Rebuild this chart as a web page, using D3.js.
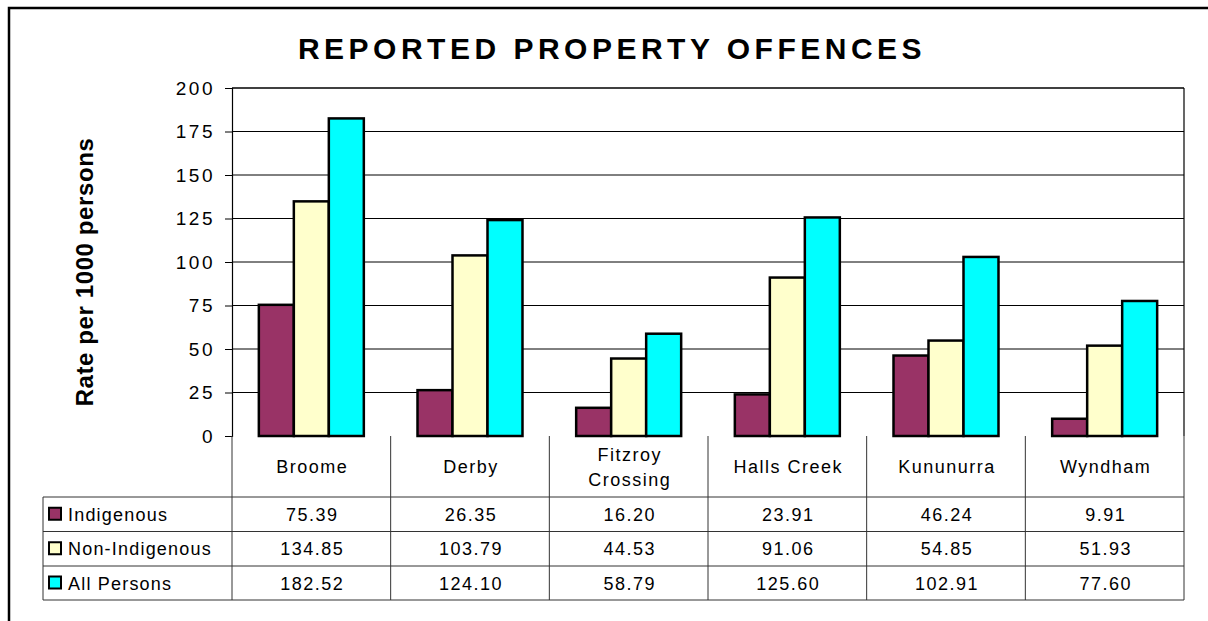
<!DOCTYPE html>
<html>
<head>
<meta charset="utf-8">
<script src="https://cdn.jsdelivr.net/npm/d3@7"></script>
<style>
  body { margin: 0; background: #fff; }
  svg text { font-family: "Liberation Sans", Arial, sans-serif; fill: #000; }
</style>
</head>
<body>
<div id="chart"></div>
<script>
// data
const towns = ["Broome", "Derby", "Fitzroy Crossing", "Halls Creek", "Kununurra", "Wyndham"];
const seriesNames = ["Indigenous", "Non-Indigenous", "All Persons"];
const indigenous = [75.39, 26.35, 16.20, 23.91, 46.24, 9.91];
const nonIndigenous = [134.85, 103.79, 44.53, 91.06, 54.85, 51.93];
const allPersons = [182.52, 124.10, 58.79, 125.60, 102.91, 77.60];
const yTicks = [0, 25, 50, 75, 100, 125, 150, 175, 200];
const colors = ["#993366", "#FFFFCC", "#00FFFF"];

const series = [indigenous, nonIndigenous, allPersons];

const W = 1208, H = 621;
const plot = {left: 232, right: 1184, top: 88, bottom: 436};
const rowY = [497, 531.5, 566, 600]; // table row lines
const legendLeft = 43;

const svg = d3.select("#chart").append("svg")
    .attr("width", W)
    .attr("height", H);

// outer chart border (runs off the right and bottom)
svg.append("rect")
    .attr("x", 9).attr("y", 8)
    .attr("width", 1300).attr("height", 700)
    .attr("fill", "none")
    .attr("stroke", "#000")
    .attr("stroke-width", 2.5);

// title
svg.append("text")
    .attr("x", 612).attr("y", 59)
    .attr("text-anchor", "middle")
    .style("font-size", "30px")
    .style("font-weight", "bold")
    .style("letter-spacing", "4.5px")
    .text("REPORTED PROPERTY OFFENCES");

// scales
const x = d3.scaleBand()
    .domain(towns)
    .range([plot.left, plot.right])
    .padding(0);

const xs = d3.scaleBand()
    .domain(d3.range(series.length))
    .range([0, x.bandwidth()])
    .paddingInner(0)
    .paddingOuter(0.767);

const y = d3.scaleLinear()
    .domain([0, 200])
    .range([plot.bottom, plot.top]);

// gridlines
svg.append("g")
    .selectAll("line")
    .data(yTicks.filter(d => d > 0))
    .join("line")
    .attr("x1", plot.left).attr("x2", plot.right)
    .attr("y1", d => y(d)).attr("y2", d => y(d))
    .attr("stroke", "#000")
    .attr("stroke-width", d => d === 200 ? 1.5 : 1);

// right side of plot area
svg.append("line")
    .attr("x1", plot.right).attr("x2", plot.right)
    .attr("y1", plot.top).attr("y2", plot.bottom)
    .attr("stroke", "#000").attr("stroke-width", 1.2);

// y axis
const yAxis = svg.append("g")
    .attr("transform", `translate(${plot.left},0)`)
    .call(d3.axisLeft(y).tickValues(yTicks).tickSize(7).tickPadding(0).tickFormat(d3.format("d")));
yAxis.select(".domain").attr("stroke", "#000").attr("stroke-width", 1.2);
yAxis.selectAll(".tick line").attr("stroke", "#000");
yAxis.selectAll(".tick text")
    .attr("x", -17)
    .style("font-size", "19px")
    .style("letter-spacing", "2.5px")
    .style("font-family", "Liberation Sans, Arial, sans-serif");

// y axis title
svg.append("text")
    .attr("transform", "translate(93,272) rotate(-90)")
    .attr("text-anchor", "middle")
    .style("font-size", "24px")
    .style("font-weight", "bold")
    .style("letter-spacing", "0.6px")
    .text("Rate per 1000 persons");

// bars
const groups = svg.append("g")
    .selectAll("g")
    .data(series)
    .join("g")
    .attr("fill", (d, i) => colors[i]);

groups.selectAll("rect")
    .data((vals, si) => vals.map((v, ti) => ({v, si, town: towns[ti]})))
    .join("rect")
    .attr("x", d => x(d.town) + xs(d.si))
    .attr("width", xs.bandwidth())
    .attr("y", d => y(d.v))
    .attr("height", d => y(0) - y(d.v))
    .attr("stroke", "#000")
    .attr("stroke-width", 2.5);

// data table
const table = svg.append("g").attr("stroke", "#333").attr("stroke-width", 1);

// horizontal rules
rowY.forEach(ry => {
    table.append("line")
        .attr("x1", legendLeft).attr("x2", plot.right)
        .attr("y1", ry).attr("y2", ry);
});
// column rules
const colEdges = towns.map(t => x(t)).concat([plot.right]);
table.selectAll("line.col")
    .data(colEdges)
    .join("line")
    .attr("class", "col")
    .attr("x1", d => d).attr("x2", d => d)
    .attr("y1", plot.bottom).attr("y2", rowY[3]);
table.append("line")
    .attr("x1", legendLeft).attr("x2", legendLeft)
    .attr("y1", rowY[0]).attr("y2", rowY[3]);

// category labels
const catText = svg.append("g")
    .selectAll("text")
    .data(towns)
    .join("text")
    .attr("text-anchor", "middle")
    .style("font-size", "18px")
    .style("letter-spacing", "1.5px");

catText.each(function(d) {
    const words = d === "Fitzroy Crossing" ? ["Fitzroy", "Crossing"] : [d];
    const t = d3.select(this);
    const cx = x(d) + x.bandwidth() / 2 + 1;
    words.forEach((w, k) => {
        t.append("tspan")
            .attr("x", cx)
            .attr("y", words.length === 1 ? 473 : 461 + k * 25)
            .text(w);
    });
});

// values in table
series.forEach((vals, si) => {
    const cy = (rowY[si] + rowY[si + 1]) / 2 + 6.5;
    svg.append("g")
        .selectAll("text")
        .data(vals)
        .join("text")
        .attr("x", (d, i) => x(towns[i]) + x.bandwidth() / 2 + 1)
        .attr("y", cy)
        .attr("text-anchor", "middle")
        .style("font-size", "18px")
        .style("letter-spacing", "1.5px")
        .text(d => d.toFixed(2));

    // legend key + name
    svg.append("rect")
        .attr("x", 49).attr("y", cy - 13)
        .attr("width", 12).attr("height", 12)
        .attr("fill", colors[si])
        .attr("stroke", "#000")
        .attr("stroke-width", 2);
    svg.append("text")
        .attr("x", 68).attr("y", cy)
        .style("font-size", "18px")
        .style("letter-spacing", "1.2px")
        .text(seriesNames[si]);
});
</script>
</body>
</html>
